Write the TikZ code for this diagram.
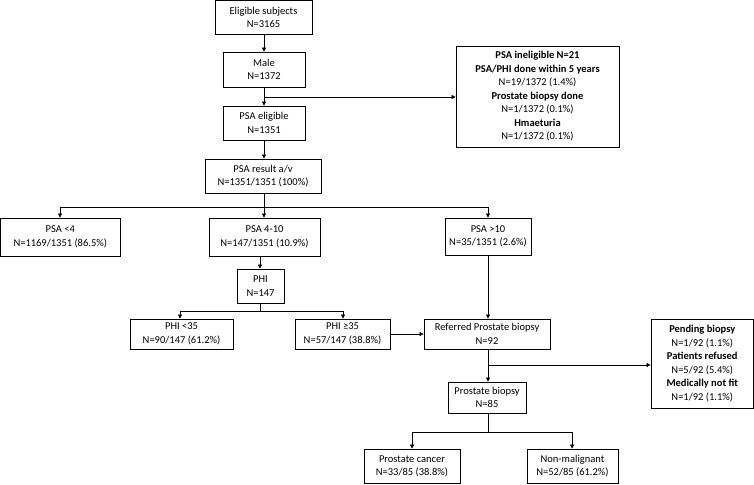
\documentclass[tikz,border=0pt]{standalone}
\usepackage{fontspec}
\setmainfont{Carlito}
\usetikzlibrary{arrows.meta}
\begin{document}
\begin{tikzpicture}[x=1pt,y=-1pt,
 box/.style={draw,line width=0.8pt,align=center,inner sep=1pt,font=\fontsize{10.5}{13.5}\selectfont},
 ar/.style={-{Triangle[length=4pt,width=4pt]},line width=0.7pt},
 ln/.style={line width=0.7pt}]
\useasboundingbox (0,0) rectangle (754,484);
\newcommand{\bx}[6]{\node[box,minimum width=#4-#3,minimum height=#6-#5] (#1) at ({(#3+#4)/2},{(#5+#6)/2}) {#2};}
\bx{elig}{Eligible subjects\\N=3165}{215}{312}{0.5}{34}
\bx{male}{Male\\N=1372}{223}{305}{52}{87}
\bx{pel}{PSA eligible\\N=1351}{223}{305}{106}{140}
\bx{inel}{\textbf{PSA ineligible N=21}\\\textbf{PSA/PHI done within 5 years}\\N=19/1372 (1.4\%)\\\textbf{Prostate biopsy done}\\N=1/1372 (0.1\%)\\\textbf{Hmaeturia}\\N=1/1372 (0.1\%)}{456}{619}{46}{147}
\bx{res}{PSA result a/v\\N=1351/1351 (100\%)}{205}{321}{159}{193}
\bx{p4}{PSA <4\\N=1169/1351 (86.5\%)}{0.5}{120}{218}{256}
\bx{p410}{PSA 4-10\\N=147/1351 (10.9\%)}{209}{320}{218}{256}
\bx{p10}{PSA >10\\N=35/1351 (2.6\%)}{445}{531}{218}{255}
\bx{phi}{PHI\\N=147}{237}{284}{269}{303}
\bx{phil}{PHI <35\\N=90/147 (61.2\%)}{130}{233}{319}{349}
\bx{phih}{PHI ≥35\\N=57/147 (38.8\%)}{295}{390}{319}{349}
\bx{ref}{Referred Prostate biopsy\\N=92}{424}{550}{319}{349}
\bx{pend}{\textbf{Pending biopsy}\\N=1/92 (1.1\%)\\\textbf{Patients refused}\\N=5/92 (5.4\%)\\\textbf{Medically not fit}\\N=1/92 (1.1\%)}{651}{753.5}{319}{408}
\bx{bio}{Prostate biopsy\\N=85}{448}{526}{382}{413}
\bx{can}{Prostate cancer\\N=33/85 (38.8\%)}{364}{460}{449}{483.5}
\bx{non}{Non-malignant\\N=52/85 (61.2\%)}{527}{618}{449}{483.5}
\draw[ar] (elig.south -| 264,0) -- (male.north -| 264,0);
\draw[ar] (male.south -| 264,0) -- (pel.north -| 264,0);
\coordinate (j1) at (264,97);
\draw[ar] (j1) -- (j1 -| inel.west);
\draw[ar] (pel.south -| 264,0) -- (res.north -| 264,0);
\coordinate (j2) at (264,207);
\draw[ln] (res.south -| 264,0) -- (j2);
\draw[ar] (j2) -- (p410.north -| 264,0);
\draw[ar] (j2) -| (p4.north -| 60,0);
\draw[ar] (j2) -| (p10.north -| 488,0);
\draw[ar] (p410.south -| 260,0) -- (phi.north -| 260,0);
\coordinate (j3) at (260,311);
\draw[ln] (phi.south -| 260,0) -- (j3);
\draw[ar] (j3) -| (phil.north -| 180,0);
\draw[ar] (j3) -| (phih.north -| 343,0);
\draw[ar] (p10.south -| 488,0) -- (ref.north -| 488,0);
\draw[ar] (phih.east) -- (ref.west);
\coordinate (j4) at (488,365);
\draw[ar] (ref.south -| 488,0) -- (bio.north -| 488,0);
\draw[ar] (j4) -- (j4 -| pend.west);
\coordinate (j5) at (488,432);
\draw[ln] (bio.south -| 488,0) -- (j5);
\draw[ar] (j5) -| (can.north -| 412,0);
\draw[ar] (j5) -| (non.north -| 572,0);
\end{tikzpicture}
\end{document}
